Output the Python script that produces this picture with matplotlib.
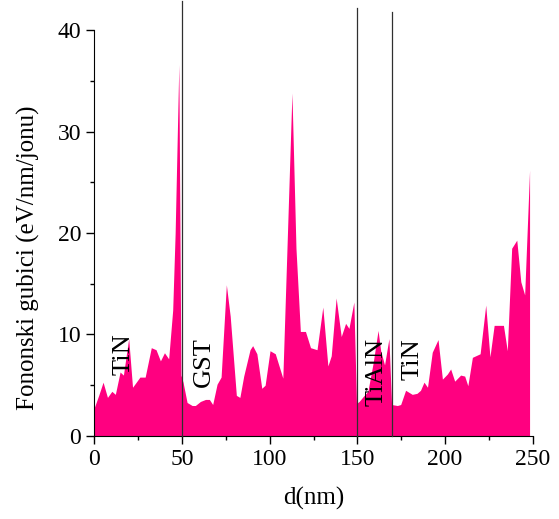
import matplotlib
matplotlib.use("Agg")
import matplotlib.pyplot as plt
from matplotlib.ticker import MultipleLocator

# Data
d_nm = [0, 2.5, 5, 7.5, 10, 12, 14.7, 16.6, 19.6, 21.8, 23.5, 26, 29, 32.5, 35.2,
        37.7, 40, 42.4, 44.7, 46.1, 48.2, 49.4, 50.6, 52.9, 55.8, 57.6, 60.5, 63.4,
        65.6, 67.5, 70, 72.3, 75.3, 77.5, 81, 83, 85.2, 88.8, 90.3, 92.7, 95.5, 97.4,
        100.2, 103.2, 107.5, 112.7, 115, 117.5, 120.4, 123.3, 127, 130.3, 133.2,
        135.1, 137.9, 140.8, 143.3, 145.2, 148, 149.5, 151, 153.4, 156, 159, 161.8,
        163.3, 165.5, 168, 169.5, 172.8, 174.7, 177.5, 181.3, 184, 186, 188, 190,
        192.7, 196, 198.5, 201.3, 203.2, 205.5, 208.9, 211.2, 213, 215.6, 220, 223.2,
        225.6, 228, 233.3, 235.5, 238, 240.9, 243.2, 245.4, 248.2]
losses = [2.8, 4.0, 5.3, 3.8, 4.4, 4.1, 6.3, 6.0, 9.6, 4.8, 5.2, 5.8, 5.8, 8.7, 8.5,
          7.4, 8.2, 7.6, 12.4, 20.0, 36.6, 6.0, 5.3, 3.3, 3.0, 3.0, 3.4, 3.6,
          3.6, 3.1, 5.1, 5.8, 14.9, 11.8, 4.0, 3.8, 5.9, 8.5, 8.9, 8.1, 4.7, 5.0,
          8.4, 8.1, 5.7, 33.8, 18.5, 10.3, 10.3, 8.7, 8.5, 12.7, 6.9,
          7.9, 13.6, 9.8, 11.1, 10.6, 13.2, 3.2, 3.4, 3.9, 4.4, 7.2, 10.4,
          8.4, 7.0, 9.6, 3.1, 3.0, 3.1, 4.5, 4.1, 4.2, 4.5, 5.3, 4.8,
          8.25, 9.5, 5.6, 6.1, 6.6, 5.4, 6.0, 5.9, 4.95, 7.75, 8.1, 12.9,
          7.8, 10.9, 10.9, 8.4, 18.5, 19.3, 15.2, 13.9, 26.2]

boundaries = [50, 150, 170]
boundary_tops = [42.9, 42.2, 41.8]
layer_names = ["TiN", "GST", "TiAlN", "TiN"]
layer_x = [16.8, 62.5, 161, 181.5]
layer_y = [8.1, 7.3, 6.3, 7.6]

fig = plt.figure(figsize=(5.59, 5.19), dpi=100)
ax = fig.add_axes([0.1687, 0.160, 0.7843, 0.782])

ax.fill_between(d_nm, losses, 0, color="#FF0080", linewidth=0)

for bx, top in zip(boundaries, boundary_tops):
    ax.plot([bx, bx], [0, top], color="#303030", lw=0.9, clip_on=False, zorder=3)

for name, tx, ty in zip(layer_names, layer_x, layer_y):
    ax.text(tx, ty, name, rotation=90, ha="center", va="center",
            fontsize=19, family="Liberation Serif", color="black", zorder=4)

ax.set_xlim(0, 250)
ax.set_ylim(0, 40)
ax.xaxis.set_major_locator(MultipleLocator(50))
ax.xaxis.set_minor_locator(MultipleLocator(25))
ax.yaxis.set_major_locator(MultipleLocator(10))
ax.yaxis.set_minor_locator(MultipleLocator(5))
ax.tick_params(which="major", direction="out", length=6, width=1)
ax.tick_params(which="minor", direction="out", length=3, width=1)
for lab in ax.get_xticklabels() + ax.get_yticklabels():
    lab.set_family("Liberation Serif")
    lab.set_fontsize(17)
ax.spines["top"].set_visible(False)
ax.spines["right"].set_visible(False)

ax.set_xlabel("d(nm)", family="Liberation Serif", fontsize=18, labelpad=12)
ax.set_ylabel("Fononski gubici (eV/nm/jonu)", family="Liberation Serif",
              fontsize=18, labelpad=12)
ax.yaxis.set_label_coords(-0.125, 0.44)

fig.savefig("out.png", dpi=100)
